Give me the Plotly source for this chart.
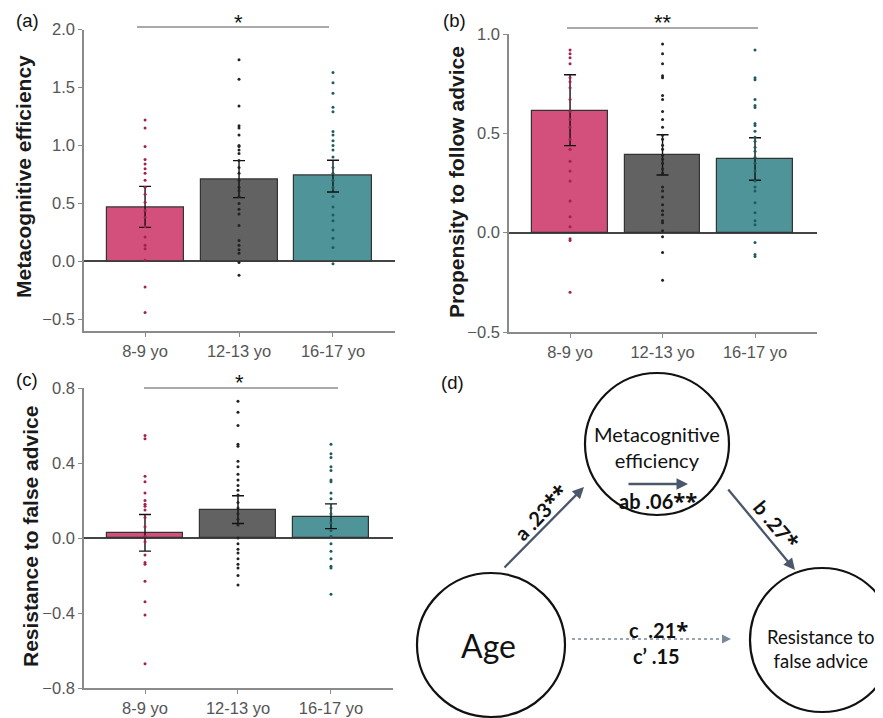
import plotly.graph_objects as go

W, H = 883, 718
OFF = 8  # page body margin of the browser


def px(x):
    return (x - OFF) / W


def py(y):
    return 1 - (y - OFF) / H


groups = ["8-9 yo", "12-13 yo", "16-17 yo"]
bar_colors = ["#d2507b", "#626262", "#4f9499"]
dot_colors = ["#a3214c", "#222222", "#1f5c60"]

# (a) Metacognitive efficiency
meta_mean = [0.469, 0.708, 0.737]
meta_hi = [0.647, 0.869, 0.872]
meta_lo = [0.294, 0.550, 0.599]
meta_dots = [
    [1.22, 1.15, 0.99, 0.88, 0.84, 0.80, 0.76, 0.70, 0.64, 0.58, 0.51, 0.44, 0.38,
     0.30, 0.21, 0.14, 0.11, 0.01, -0.22, -0.44],
    [1.74, 1.57, 1.34, 1.17, 1.15, 1.09, 1.00, 0.99, 0.96, 0.93, 0.87, 0.81, 0.76,
     0.70, 0.64, 0.61, 0.56, 0.50, 0.45, 0.41, 0.31, 0.18, 0.14, 0.10, 0.07, -0.01, -0.12],
    [1.63, 1.54, 1.45, 1.33, 1.29, 1.12, 1.09, 1.04, 1.00, 0.96, 0.90, 0.81, 0.76,
     0.70, 0.64, 0.56, 0.47, 0.40, 0.35, 0.27, 0.20, 0.12, -0.02],
]

# (b) Propensity to follow advice
prop_mean = [0.613, 0.391, 0.370]
prop_hi = [0.795, 0.493, 0.478]
prop_lo = [0.438, 0.290, 0.264]
prop_dots = [
    [0.92, 0.90, 0.88, 0.85, 0.78, 0.76, 0.73, 0.67, 0.61, 0.57, 0.53, 0.47, 0.42,
     0.36, 0.31, 0.26, 0.16, 0.08, 0.03, -0.03, -0.04, -0.30],
    [0.95, 0.90, 0.85, 0.79, 0.78, 0.69, 0.67, 0.61, 0.57, 0.53, 0.49, 0.47, 0.44,
     0.42, 0.39, 0.37, 0.35, 0.32, 0.30, 0.23, 0.21, 0.18, 0.14, 0.11, 0.09, 0.06,
     0.05, 0.01, -0.02, -0.10, -0.24],
    [0.92, 0.78, 0.77, 0.67, 0.64, 0.63, 0.55, 0.54, 0.51, 0.48, 0.46, 0.43, 0.41,
     0.38, 0.35, 0.31, 0.26, 0.23, 0.21, 0.15, 0.10, 0.06, 0.04, -0.05, -0.11, -0.12],
]

# (c) Resistance to false advice
res_mean = [0.029, 0.148, 0.114]
res_hi = [0.125, 0.225, 0.182]
res_lo = [-0.070, 0.077, 0.050]
res_dots = [
    [0.546, 0.53, 0.33, 0.30, 0.24, 0.20, 0.18, 0.17, 0.15, 0.11, 0.06, 0.01, -0.02,
     -0.09, -0.13, -0.14, -0.23, -0.34, -0.41, -0.67],
    [0.73, 0.67, 0.60, 0.50, 0.49, 0.41, 0.38, 0.34, 0.31, 0.28, 0.255, 0.23, 0.19,
     0.16, 0.13, 0.10, 0.07, 0.00, -0.03, -0.06, -0.08, -0.11, -0.14, -0.16, -0.20, -0.25],
    [0.50, 0.45, 0.43, 0.38, 0.36, 0.31, 0.30, 0.24, 0.21, 0.16, 0.13, 0.08, 0.04,
     0.01, -0.03, -0.07, -0.11, -0.15, -0.16, -0.30],
]

# mediation model labels: (label, coefficient, significance stars)
med_nodes = ["Age", "Metacognitive<br>efficiency", "Resistance to<br>false advice"]
path_a = ("a", ".23", "**")
path_b = ("b", ".27", "*")
path_ab = ("ab", ".06", "**")
path_c = ("c ", ".21", "*")
path_c_prime = ("c\u2019", ".15", "")

fig = go.Figure()

panels = [
    ("x", "y", meta_mean, meta_hi, meta_lo, meta_dots),
    ("x2", "y2", prop_mean, prop_hi, prop_lo, prop_dots),
    ("x3", "y3", res_mean, res_hi, res_lo, res_dots),
]

for xa, ya, mean, hi, lo, dots in panels:
    fig.add_trace(go.Bar(
        x=groups, y=mean, xaxis=xa, yaxis=ya, width=0.82,
        marker=dict(color=bar_colors, line=dict(color="#333333", width=1.2)),
        error_y=dict(type="data", symmetric=False,
                     array=[h - m for h, m in zip(hi, mean)],
                     arrayminus=[m - l for m, l in zip(mean, lo)],
                     color="#111111", thickness=1.4, width=6),
        showlegend=False, hoverinfo="skip",
    ))
    for g, vals, col in zip(groups, dots, dot_colors):
        fig.add_trace(go.Scatter(
            x=[g] * len(vals), y=vals, xaxis=xa, yaxis=ya, mode="markers",
            marker=dict(size=3, color=col), showlegend=False, hoverinfo="skip",
        ))

tick_font = dict(family="Liberation Sans, Arial", size=16.5, color="#555555")
ax_common = dict(showline=True, linecolor="#8a8a8a", linewidth=1.5, ticks="outside",
                 ticklen=4, tickcolor="#8a8a8a", showgrid=False, tickfont=tick_font,
                 automargin=False)
zl = dict(zeroline=True, zerolinecolor="#444444", zerolinewidth=1.5)

fig.update_layout(
    width=W, height=H, margin=dict(l=0, r=0, t=0, b=0, pad=0), autosize=False,
    paper_bgcolor="white", plot_bgcolor="white", bargap=0,
    xaxis=dict(domain=[px(84), px(395)], range=[-0.65, 2.66], anchor="y", **ax_common),
    yaxis=dict(domain=[py(331), py(29.5)], range=[-0.6, 2.0], anchor="x",
               tickvals=[-0.5, 0, 0.5, 1.0, 1.5, 2.0], tickformat=".1f", **zl, **ax_common),
    xaxis2=dict(domain=[px(509), px(817)], range=[-0.66, 2.67], anchor="y2", **ax_common),
    yaxis2=dict(domain=[py(332), py(34)], range=[-0.5, 1.0], anchor="x2",
                tickvals=[-0.5, 0, 0.5, 1.0], tickformat=".1f", **zl, **ax_common),
    xaxis3=dict(domain=[px(84), px(393)], range=[-0.656, 2.667], anchor="y3", **ax_common),
    yaxis3=dict(domain=[py(688), py(388)], range=[-0.8, 0.8], anchor="x3",
                tickvals=[-0.8, -0.4, 0, 0.4, 0.8], tickformat=".1f", **zl, **ax_common),
)

shapes = []
ann = []


def text(t, x, y, size, family="Liberation Sans, Arial", color="#111111", angle=0,
         yanchor="middle"):
    ann.append(dict(text=t, x=px(x), y=py(y), xref="paper", yref="paper",
                    xanchor="center", yanchor=yanchor, showarrow=False, textangle=angle,
                    font=dict(family=family, size=size, color=color)))


# significance bars
for x0, x1, y, star, sx, sy in [(137, 329, 27, "*", 238, 8),
                                 (567, 758, 28, "**", 663, 8),
                                 (144, 338, 388, "*", 239, 368)]:
    shapes.append(dict(type="line", xref="paper", yref="paper", x0=px(x0), x1=px(x1),
                       y0=py(y), y1=py(y), line=dict(color="#555555", width=1.2)))
    text(star, sx, sy, 22, yanchor="top")

# panel letters
for t, x, y in [("(a)", 27, 21), ("(b)", 454, 21), ("(c)", 27, 379), ("(d)", 452, 382)]:
    text(t, x, y, 18.5)

# y axis titles
for t, x, y in [("Metacognitive efficiency", 23, 177),
                ("Propensity to follow advice", 456, 182),
                ("Resistance to false advice", 30, 537)]:
    text("<b>" + t + "</b>", x, y, 21, color="#1a1a1a", angle=-90)

# mediation diagram circles
for cx, cy, rx, ry in [(657, 444, 72, 71), (491, 645, 74, 72), (822, 640, 72, 72)]:
    shapes.append(dict(type="circle", xref="paper", yref="paper",
                       x0=px(cx - rx), x1=px(cx + rx), y0=py(cy + ry), y1=py(cy - ry),
                       line=dict(color="#111111", width=2.2)))

dfont = "Lato, Open Sans, sans-serif"
text(med_nodes[0], 489, 645, 32, family=dfont)
text(med_nodes[1], 657, 447, 20, family=dfont)
text(med_nodes[2], 821, 649, 18.5, family=dfont)

arrow_col = "#4b586b"
for (tx, ty), (hx, hy) in [((503, 569), (584, 487)), ((727, 488), (795, 570)),
                           ((627, 484), (688, 484))]:
    ann.append(dict(text="", x=px(hx), y=py(hy), xref="paper", yref="paper",
                    ax=tx - hx, ay=ty - hy, showarrow=True, arrowhead=2, arrowsize=1,
                    arrowwidth=2.3, arrowcolor=arrow_col, standoff=0))

# dotted direct path
shapes.append(dict(type="line", xref="paper", yref="paper", x0=px(572), x1=px(726),
                   y0=py(639), y1=py(639), line=dict(color="#7a8898", width=1.5, dash="dot")))
ann.append(dict(text="", x=px(731), y=py(639), xref="paper", yref="paper",
                ax=-7, ay=0, showarrow=True, arrowhead=2, arrowsize=1.2,
                arrowwidth=1.5, arrowcolor="#7a8898", standoff=0))


def path_label(p):
    lab, coef, stars = p
    s = "<b>" + lab + " " + coef
    if stars:
        s += "<span style='font-family:Open Sans;font-size:22px'>" + stars + "</span>"
    return s + "</b>"


text(path_label(path_a), 540, 512, 20, family=dfont, angle=-46)
text(path_label(path_b), 777, 524, 20, family=dfont, angle=50)
text(path_label(path_ab), 658, 500, 20, family=dfont)
text(path_label(path_c), 658, 629, 20, family=dfont)
text(path_label(path_c_prime), 656, 656, 20, family=dfont)

fig.update_layout(shapes=shapes, annotations=ann)
fig.write_html("out.html")
